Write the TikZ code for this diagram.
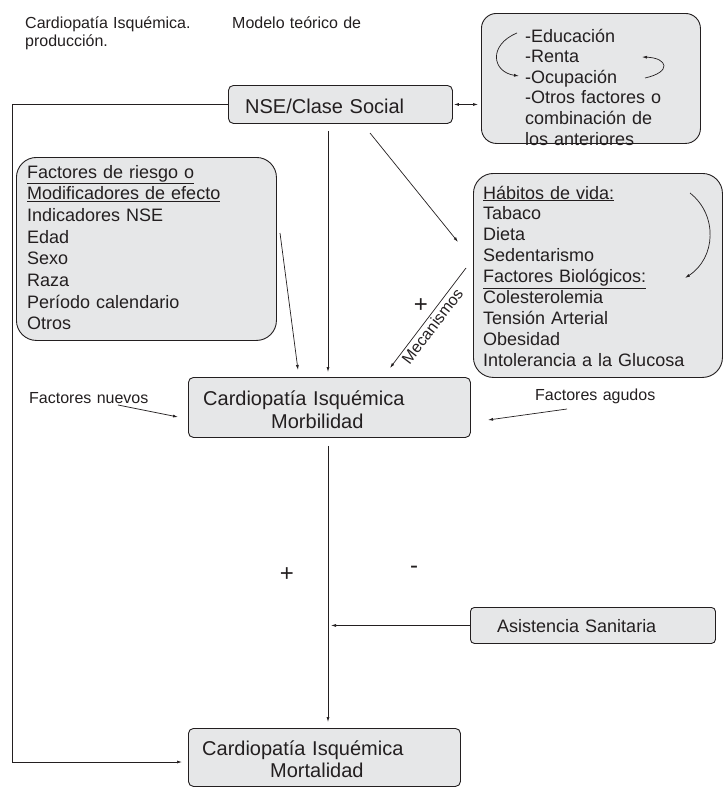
\documentclass[tikz,border=0pt]{standalone}
\usepackage{fontspec}
\setmainfont{Liberation Sans}
\usepackage{xcolor}
\usepackage{tikz}
\usetikzlibrary{calc,positioning,arrows.meta}
\definecolor{figInk}{HTML}{231F20}
\definecolor{figFill}{HTML}{E6E7E8}

\begin{document}
\begin{tikzpicture}[
  x=1pt, y=-1pt,
  block/.style={draw=figInk, fill=figFill, line width=0.9pt, rounded corners=5pt, anchor=north west, inner sep=0pt},
  bigblock/.style={block, rounded corners=18pt},
  boxtext/.style={anchor=base west, inner sep=0pt, text=figInk, text width=8cm, align=left},
  big/.style={font=\fontsize{20}{#1}\selectfont},
  big/.default=23,
  body/.style={font=\fontsize{18}{#1}\selectfont},
  body/.default=21,
  small/.style={boxtext, font=\fontsize{16}{18}\selectfont},
  pathlabel/.style={inner sep=2pt, text=figInk, font=\fontsize{16}{18}\selectfont},
  sign/.style={anchor=base, inner sep=0pt, text=figInk, font=\fontsize{24}{24}\selectfont},
  link/.style={->, draw=figInk, line width=0.7pt},
  >={Latex[length=5pt,width=3pt]}
]
\useasboundingbox (0,0) rectangle (724,787);

% Title
\node[small] (titulo) at (25,28) {Cardiopatía Isquémica.\\producción.};
\node[small] (modelo) at (232,28) {Modelo teórico de};

% NSE and its indicators
\node[block, minimum width=224pt, minimum height=38pt] (nse) at (228,85) {};
\node[boxtext, big] (nse-t) at ([shift={(17,28)}]nse.north west) {NSE/Clase Social};
\node[bigblock, rounded corners=15pt, minimum width=219pt, minimum height=130pt] (educ) at (481,13) {};
\node[boxtext, body=20.6] (educ-t) at ([shift={(44,29)}]educ.north west)
  {-Educación\\-Renta\\-Ocupación\\-Otros factores o\\combinación de\\los anteriores};

% Risk factors and life habits
\node[bigblock, rounded corners=20pt, minimum width=260pt, minimum height=183pt] (fact) at (16,157) {};
\node[boxtext, body=21.7] (fact-t) at ([shift={(11,21)}]fact.north west)
  {\underline{Factores de riesgo o}\\\underline{Modificadores de efecto}\\Indicadores NSE\\Edad\\Sexo\\Raza\\Período calendario\\Otros};
\node[bigblock, rounded corners=20pt, minimum width=249pt, minimum height=204pt] (habit) at (473,173) {};
\node[boxtext, body=20.9] (habit-t) at ([shift={(10,26)}]habit.north west)
  {\underline{Hábitos de vida:}\\Tabaco\\Dieta\\Sedentarismo\\\underline{Factores Biológicos:}\\Colesterolemia\\Tensión Arterial\\Obesidad\\Intolerancia a la Glucosa};

% Outcomes
\node[block, minimum width=282pt, minimum height=60pt] (morb) at (188,377) {};
\node[boxtext, big=23] (morb-t) at ([shift={(15,28)}]morb.north west)
  {Cardiopatía Isquémica\\\hspace*{68pt}Morbilidad};
\node[block, rounded corners=4pt, minimum width=245pt, minimum height=36pt] (asist) at (470,607) {};
\node[boxtext, body] (asist-t) at ([shift={(27,25)}]asist.north west) {Asistencia Sanitaria};
\node[block, minimum width=272pt, minimum height=58pt] (mort) at (188,728) {};
\node[boxtext, big=22] (mort-t) at ([shift={(14,27)}]mort.north west)
  {Cardiopatía Isquémica\\\hspace*{68pt}Mortalidad};

% Side factors and signs
\node[small] (nuevos) at (29,403) {Factores nuevos};
\node[small] (agudos) at (535,400) {Factores agudos};
\node[sign] (mas-mec) at (421,312) {+};
\node[sign] (mas) at (287,581) {+};
\node[sign] (menos) at (414,573) {-};

% Free arrow ends
\coordinate (axis) at (328,0);
\coordinate (retorno) at (12,762);
\coordinate (nue-a) at (118,405);
\coordinate (nue-b) at (178,417);
\coordinate (agu-a) at (567,409);
\coordinate (agu-b) at (488,420);
\coordinate (fac-a) at (280,233);
\coordinate (fac-b) at (298,370);
\coordinate (hab-a) at (370,133);
\coordinate (hab-b) at (458,242);
\coordinate (mec-a) at (390,368);
\coordinate (mec-b) at (466,268);

% Main causal chain
\draw[link, shorten <=7pt, shorten >=5pt] (nse.south -| axis) -- (morb.north -| axis);
\draw[link, shorten <=8pt, shorten >=6pt] (morb.south -| axis) -- (mort.north -| axis);
\draw[link, shorten >=3pt] (asist.west) -- (asist.west -| axis);
\draw[link, <->, shorten <=1pt, shorten >=3pt] (nse.east) -- (nse.east -| educ.west);
\draw[link, shorten >=6pt] (nse.west) -| (retorno) -- (retorno -| mort.west);

% Other influences
\draw[link] (nue-a) -- (nue-b);
\draw[link] (agu-a) -- (agu-b);
\draw[link] (fac-a) -- (fac-b);
\draw[link] (hab-a) -- (hab-b);
\draw[link, <-] (mec-a) -- node[pathlabel, pos=0.47, sloped, below] (mec) {Mecanismos} (mec-b);

% Loops inside the boxes
\draw[link] (517,33) .. controls (488,45) and (492,72) .. (519,76);
\draw[link] (645,78) .. controls (672,72) and (668,58) .. (642,57);
\draw[link] (690,193) .. controls (718,215) and (716,258) .. (685,278);
\end{tikzpicture}
\end{document}
